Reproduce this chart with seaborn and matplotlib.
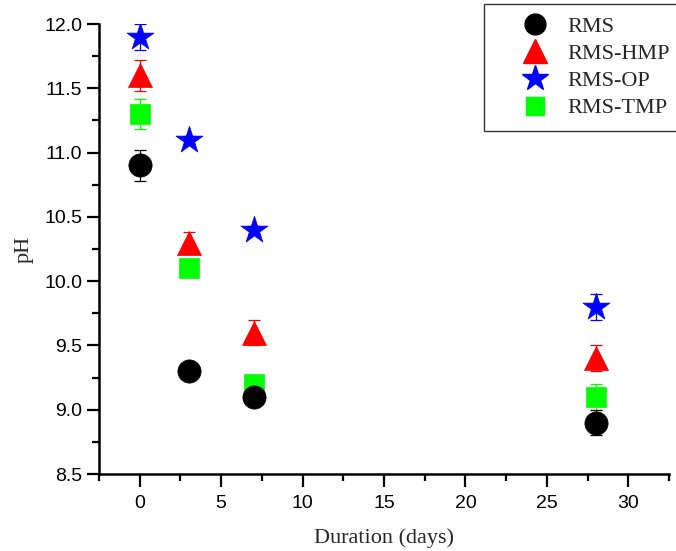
import numpy as np
import pandas as pd
import matplotlib
matplotlib.use("Agg")
import matplotlib.pyplot as plt
import seaborn as sns
from matplotlib.ticker import MultipleLocator
from matplotlib.lines import Line2D
from matplotlib.legend_handler import HandlerLine2D

days = [0, 3, 7, 28]
series = ["RMS", "RMS-HMP", "RMS-OP", "RMS-TMP"]
ph_rms = [10.9, 9.3, 9.1, 8.9]
ph_hmp = [11.6, 10.3, 9.6, 9.4]
ph_op = [11.9, 11.1, 10.4, 9.8]
ph_tmp = [11.3, 10.1, 9.2, 9.1]
err_rms = [0.12, 0.03, 0.03, 0.1]
err_hmp = [0.12, 0.08, 0.1, 0.1]
err_op = [0.1, 0.03, 0.03, 0.1]
err_tmp = [0.12, 0.03, 0.03, 0.1]

values = {"RMS": ph_rms, "RMS-HMP": ph_hmp, "RMS-OP": ph_op, "RMS-TMP": ph_tmp}
errors = {"RMS": err_rms, "RMS-HMP": err_hmp, "RMS-OP": err_op, "RMS-TMP": err_tmp}
colors = {"RMS": "#000000", "RMS-HMP": "#FF0000", "RMS-OP": "#0000FF", "RMS-TMP": "#00FF00"}
markers = {"RMS": "o", "RMS-HMP": "^", "RMS-OP": "*", "RMS-TMP": "s"}
msizes = {"RMS": 280, "RMS-HMP": 300, "RMS-OP": 420, "RMS-TMP": 220}
zorders = {"RMS": 6, "RMS-HMP": 4, "RMS-OP": 5, "RMS-TMP": 3}

rows = []
for s in series:
    for d, v, e in zip(days, values[s], errors[s]):
        rows.append({"Duration": d, "pH": v, "err": e, "Sample": s})
df = pd.DataFrame(rows)

sns.set_style("ticks")
fig = plt.figure(figsize=(6.76, 5.51), dpi=100)
ax = fig.add_axes([0.1464, 0.1397, 0.8432, 0.8167])

draw_order = ["RMS-TMP", "RMS-HMP", "RMS-OP", "RMS"]
for s in draw_order:
    sub = df[df["Sample"] == s]
    ax.errorbar(sub["Duration"], sub["pH"], yerr=sub["err"], fmt="none",
                ecolor=colors[s], elinewidth=0.9, capsize=4, capthick=0.9,
                zorder=zorders[s] - 0.5)
    sns.scatterplot(data=sub, x="Duration", y="pH", ax=ax, color=colors[s],
                    marker=markers[s], s=msizes[s], edgecolor=colors[s],
                    linewidth=0.5, zorder=zorders[s], label=s, legend=False)

ax.set_xlim(-2.5, 32.5)
ax.set_ylim(8.5, 12.0)
ax.xaxis.set_major_locator(MultipleLocator(5))
ax.xaxis.set_minor_locator(MultipleLocator(2.5))
ax.yaxis.set_major_locator(MultipleLocator(0.5))
ax.yaxis.set_minor_locator(MultipleLocator(0.25))
ax.yaxis.set_major_formatter(matplotlib.ticker.FormatStrFormatter("%.1f"))

for side in ["top", "right"]:
    ax.spines[side].set_visible(False)
for side in ["left", "bottom"]:
    ax.spines[side].set_linewidth(1.8)
    ax.spines[side].set_color("black")

ax.tick_params(which="major", direction="out", length=9, width=1.6,
               labelsize=14, colors="black")
ax.tick_params(axis="x", which="major", pad=6)
ax.tick_params(axis="y", which="major", pad=3)
ax.tick_params(which="minor", direction="out", length=5, width=1.6, colors="black")
for lab in ax.get_xticklabels() + ax.get_yticklabels():
    lab.set_fontfamily("Liberation Sans")

ax.set_xlabel("Duration (days)", fontfamily="Liberation Serif", fontsize=16, labelpad=12)
ax.set_ylabel("pH", fontfamily="Liberation Serif", fontsize=16, labelpad=8)

handles = []
labels = []
hsizes = {"RMS": 15, "RMS-HMP": 17, "RMS-OP": 19, "RMS-TMP": 13}
for s in series:
    handles.append(Line2D([], [], linestyle="none", marker=markers[s], color=colors[s],
                          markersize=hsizes[s], markeredgecolor=colors[s]))
    labels.append(s)
hmap = {h: HandlerLine2D(xpad=1.08) for h in handles}
leg = fig.legend(handles, labels, loc="upper left", bbox_to_anchor=(0.716, 0.993),
                 prop={"family": "Liberation Serif", "size": 16}, frameon=True,
                 fancybox=False, edgecolor="black", handlelength=2.4,
                 handletextpad=0.82, labelspacing=0.3, borderpad=0.55, borderaxespad=0.0,
                 handler_map=hmap)
leg.get_frame().set_linewidth(1.0)

fig.savefig("out.png", dpi=100)
